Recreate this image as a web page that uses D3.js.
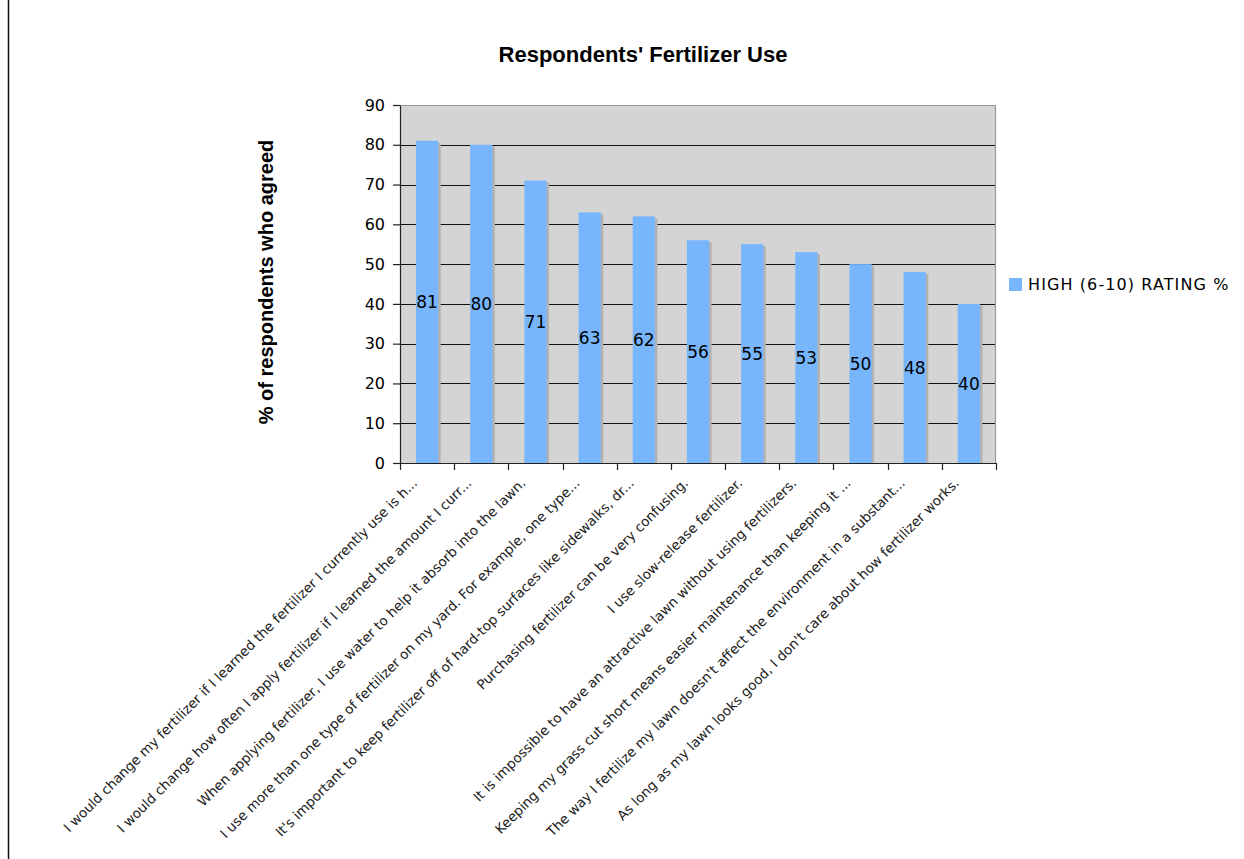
<!DOCTYPE html>
<html>
<head>
<meta charset="utf-8">
<script src="https://cdn.jsdelivr.net/npm/d3@7"></script>
<style>
  html, body { margin: 0; padding: 0; background: #fff; }
  svg { display: block; }
</style>
</head>
<body>
<svg id="chart" width="1244" height="859"></svg>
<script>
// Survey statements (truncated as shown on the axis) and their high-rating shares
const categories = [
  "I would change my fertilizer if I learned the fertilizer I currently use is h...",
  "I would change how often I apply fertilizer if I learned the amount I curr...",
  "When applying fertilizer, I use water to help it absorb into the lawn.",
  "I use more than one type of fertilizer on my yard. For example, one type...",
  "It's important to keep fertilizer off of hard-top surfaces like sidewalks, dr...",
  "Purchasing fertilizer can be very confusing.",
  "I use slow-release fertilizer.",
  "It is impossible to have an attractive lawn without using fertilizers.",
  "Keeping my grass cut short means easier maintenance than keeping it ...",
  "The way I fertilize my lawn doesn't affect the environment in a substant...",
  "As long as my lawn looks good, I don't care about how fertilizer works."
];
const highRating = [81, 80, 71, 63, 62, 56, 55, 53, 50, 48, 40];
const yTicks = [0, 10, 20, 30, 40, 50, 60, 70, 80, 90];
const seriesName = "HIGH (6-10) RATING %";
const titleText = "Respondents' Fertilizer Use";
const yTitle = "% of respondents who agreed";

const svg = d3.select("#chart");
const plot = { left: 400, right: 996, top: 105, bottom: 463 };

const x = d3.scaleBand()
  .domain(categories)
  .range([plot.left, plot.right])
  .paddingInner(0.59)
  .paddingOuter(0.295);
const y = d3.scaleLinear().domain([0, 90]).range([plot.bottom, plot.top]);

const data = categories.map((c, i) => ({ cat: c, value: highRating[i] }));

// frame line down the left edge
svg.append("line")
  .attr("x1", 8.5).attr("x2", 8.5).attr("y1", 0).attr("y2", 859)
  .attr("stroke", "#111").attr("stroke-width", 1.5);

// title
svg.append("text")
  .attr("x", 643).attr("y", 62)
  .attr("text-anchor", "middle")
  .attr("font-family", "Liberation Sans, Arial, sans-serif")
  .attr("font-weight", "bold")
  .attr("font-size", 22)
  .attr("fill", "#000")
  .text(titleText);

// plot background
svg.append("rect")
  .attr("x", plot.left).attr("y", plot.top)
  .attr("width", plot.right - plot.left).attr("height", plot.bottom - plot.top)
  .attr("fill", "#d4d4d4");

// horizontal gridlines
svg.append("g")
  .selectAll("line")
  .data(yTicks.filter(t => t > 0 && t < 90))
  .join("line")
  .attr("x1", plot.left).attr("x2", plot.right)
  .attr("y1", d => Math.round(y(d)) + 0.5).attr("y2", d => Math.round(y(d)) + 0.5)
  .attr("stroke", "#111").attr("stroke-width", 1.2);

// top and right border of the plot area
svg.append("path")
  .attr("d", `M${plot.left},${plot.top + 0.5}H${plot.right - 0.5}V${plot.bottom}`)
  .attr("fill", "none").attr("stroke", "#999").attr("stroke-width", 1.2);

// bar shadows
svg.append("g")
  .selectAll("rect")
  .data(data)
  .join("rect")
  .attr("x", d => x(d.cat) + 2.5)
  .attr("y", d => y(d.value) + 2)
  .attr("width", x.bandwidth())
  .attr("height", d => y(0) - y(d.value) - 2)
  .attr("fill", "#b2b2b2");

// bars
svg.append("g")
  .selectAll("rect")
  .data(data)
  .join("rect")
  .attr("x", d => x(d.cat))
  .attr("y", d => y(d.value))
  .attr("width", x.bandwidth())
  .attr("height", d => y(0) - y(d.value))
  .attr("fill", "#77b6fd");

// value labels at mid-height of each bar
svg.append("g")
  .selectAll("text")
  .data(data)
  .join("text")
  .attr("x", d => x(d.cat) + x.bandwidth() / 2)
  .attr("y", d => y(d.value / 2))
  .attr("dy", "0.36em")
  .attr("text-anchor", "middle")
  .attr("font-family", "DejaVu Sans, Verdana, sans-serif")
  .attr("font-size", 17)
  .attr("fill", "#000")
  .text(d => d.value);

// y axis
const yAxis = svg.append("g")
  .attr("transform", `translate(${plot.left},0)`)
  .call(d3.axisLeft(y).tickValues(yTicks).tickSize(7).tickPadding(8).tickSizeOuter(0));
yAxis.select(".domain").attr("stroke", "#222").attr("stroke-width", 1.2);
yAxis.selectAll(".tick line").attr("stroke", "#222").attr("stroke-width", 1.2);
yAxis.selectAll(".tick text")
  .attr("font-family", "DejaVu Sans, Verdana, sans-serif")
  .attr("font-size", 16)
  .attr("fill", "#000");

// x axis baseline and ticks at category boundaries
const gap = x.step() - x.bandwidth();
const boundaries = categories.map(c => x(c) - gap / 2).concat([plot.right]);
svg.append("line")
  .attr("x1", plot.left).attr("x2", plot.right)
  .attr("y1", plot.bottom + 0.5).attr("y2", plot.bottom + 0.5)
  .attr("stroke", "#222").attr("stroke-width", 1.2);
svg.append("g")
  .selectAll("line")
  .data(boundaries)
  .join("line")
  .attr("x1", d => Math.round(d) + 0.5).attr("x2", d => Math.round(d) + 0.5)
  .attr("y1", plot.bottom).attr("y2", plot.bottom + 7)
  .attr("stroke", "#222").attr("stroke-width", 1.2);

// rotated category labels
svg.append("g")
  .selectAll("text")
  .data(categories)
  .join("text")
  .attr("transform", d => `translate(${x(d) + x.bandwidth() / 2 - 9},${plot.bottom + 21}) rotate(-45)`)
  .attr("text-anchor", "end")
  .attr("font-family", "DejaVu Sans, Verdana, sans-serif")
  .attr("font-size", 13.5)
  .attr("fill", "#222")
  .text(d => d);

// y axis title
svg.append("text")
  .attr("transform", "translate(273,282) rotate(-90)")
  .attr("text-anchor", "middle")
  .attr("font-family", "Liberation Sans, Arial, sans-serif")
  .attr("font-weight", "bold")
  .attr("font-size", 20)
  .attr("fill", "#000")
  .text(yTitle);

// legend
const legend = svg.append("g").attr("transform", "translate(1009,278)");
legend.append("rect")
  .attr("width", 13).attr("height", 13)
  .attr("fill", "#77b6fd");
legend.append("text")
  .attr("x", 19).attr("y", 6.5)
  .attr("dy", "0.36em")
  .attr("font-family", "DejaVu Sans, Verdana, sans-serif")
  .attr("font-size", 16)
  .attr("letter-spacing", 1.1)
  .attr("fill", "#000")
  .text(seriesName);
</script>
</body>
</html>
